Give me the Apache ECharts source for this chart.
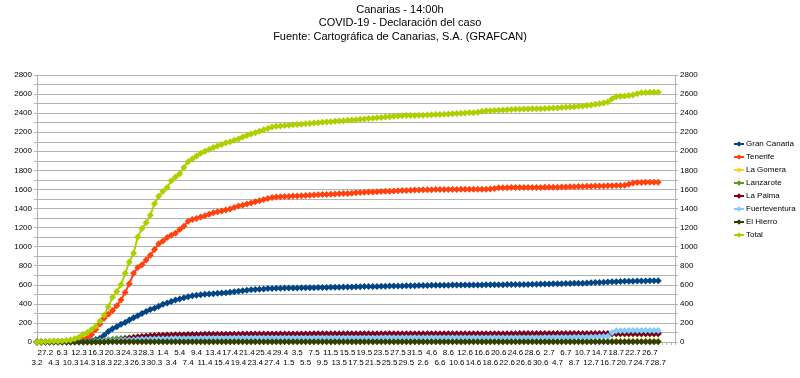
<!DOCTYPE html>
<html>
<head>
<meta charset="utf-8">
<script src="https://cdn.jsdelivr.net/npm/echarts@6/dist/echarts.min.js"></script>
<style>
  html, body { margin: 0; padding: 0; background: #fff; }
  #chart { width: 800px; height: 378px; }
</style>
</head>
<body>
<div id="chart"></div>
<script>
// dates (day.month); the last four columns are empty in the sheet
const categories = [
  '3.2', '24.2', '27.2', '1.3', '4.3', '5.3', '6.3', '9.3',
  '10.3', '11.3', '12.3', '13.3', '14.3', '15.3', '16.3', '17.3', '18.3', '19.3', '20.3', '21.3',
  '22.3', '23.3', '24.3', '25.3', '26.3', '27.3', '28.3', '29.3', '30.3', '31.3',
  '1.4', '2.4', '3.4', '4.4', '5.4', '6.4', '7.4', '8.4', '9.4', '10.4',
  '11.4', '12.4', '13.4', '14.4', '15.4', '16.4', '17.4', '18.4', '19.4', '20.4',
  '21.4', '22.4', '23.4', '24.4', '25.4', '26.4', '27.4', '28.4', '29.4', '30.4',
  '1.5', '2.5', '3.5', '4.5', '5.5', '6.5', '7.5', '8.5', '9.5', '10.5',
  '11.5', '12.5', '13.5', '14.5', '15.5', '16.5', '17.5', '18.5', '19.5', '20.5',
  '21.5', '22.5', '23.5', '24.5', '25.5', '26.5', '27.5', '28.5', '29.5', '30.5', '31.5',
  '1.6', '2.6', '3.6', '4.6', '5.6', '6.6', '7.6', '8.6', '9.6', '10.6',
  '11.6', '12.6', '13.6', '14.6', '15.6', '16.6', '17.6', '18.6', '19.6', '20.6',
  '21.6', '22.6', '23.6', '24.6', '25.6', '26.6', '27.6', '28.6', '29.6', '30.6',
  '1.7', '2.7', '3.7', '4.7', '5.7', '6.7', '7.7', '8.7', '9.7', '10.7',
  '11.7', '12.7', '13.7', '14.7', '15.7', '16.7', '17.7', '18.7', '19.7', '20.7',
  '21.7', '22.7', '23.7', '24.7', '25.7', '26.7', '27.7', '28.7',
  '', '', '', ''
];

const granCanaria = [
  0, 0, 1, 1, 2, 2, 3, 4, 5, 6,
  8, 10, 14, 18, 25, 40, 70, 110, 140, 160,
  185, 205, 230, 255, 275, 300, 320, 340, 355, 375,
  395, 410, 425, 440, 452, 465, 475, 485, 490, 495,
  500, 503, 506, 510, 513, 517, 521, 526, 532, 538,
  543, 547, 551, 554, 557, 560, 562, 563, 564, 565,
  566, 566, 567, 568, 569, 569, 570, 571, 571, 572,
  573, 574, 575, 576, 577, 578, 579, 580, 581, 582,
  582, 583, 584, 585, 586, 587, 588, 588, 589, 590,
  591, 592, 592, 593, 594, 594, 595, 596, 596, 597,
  597, 598, 598, 598, 599, 599, 599, 600, 600, 600,
  601, 601, 602, 602, 603, 603, 604, 604, 605, 606,
  607, 608, 609, 610, 611, 612, 613, 614, 615, 616,
  617, 619, 621, 623, 625, 627, 629, 631, 633, 634,
  636, 637, 638, 639, 640, 641, 642, 643, 643
];

const tenerife = [
  0, 1, 3, 4, 5, 6, 6, 7, 8, 12,
  20, 30, 45, 75, 130, 190, 250, 290, 330, 380,
  440, 520, 610, 720, 780, 810, 860, 910, 970, 1030,
  1060, 1095, 1120, 1140, 1180, 1215, 1265, 1285, 1295, 1310,
  1325, 1340, 1355, 1367, 1375, 1385, 1395, 1410, 1425, 1435,
  1448, 1458, 1470, 1482, 1494, 1506, 1516, 1520, 1523, 1525,
  1527, 1530, 1532, 1535, 1537, 1540, 1542, 1544, 1546, 1548,
  1550, 1552, 1554, 1556, 1558, 1561, 1564, 1567, 1570, 1572,
  1574, 1576, 1578, 1580, 1582, 1584, 1586, 1588, 1590, 1592,
  1594, 1595, 1596, 1597, 1597, 1598, 1598, 1599, 1599, 1600,
  1600, 1601, 1601, 1601, 1602, 1602, 1603, 1603, 1604, 1610,
  1617, 1618, 1618, 1619, 1619, 1620, 1620, 1620, 1621, 1621,
  1621, 1622, 1622, 1623, 1624, 1625, 1626, 1627, 1628, 1630,
  1631, 1633, 1634, 1635, 1636, 1637, 1638, 1639, 1640, 1641,
  1643, 1655, 1668, 1672, 1673, 1674, 1675, 1675, 1676
];

const laGomera = [
  1, 1, 1, 1, 1, 1, 1, 1, 1, 1,
  1, 1, 2, 2, 3, 3, 3, 4, 4, 5,
  5, 5, 6, 6, 6, 7, 7, 7, 7, 7,
  7, 7, 7, 7, 7, 7, 8, 8, 8, 8,
  8, 8, 8, 8, 8, 8, 8, 8, 8, 8,
  8, 8, 8, 8, 8, 8, 8, 8, 8, 8,
  8, 8, 8, 8, 8, 8, 8, 8, 8, 8,
  8, 8, 8, 8, 8, 8, 8, 8, 8, 8,
  8, 8, 8, 8, 8, 8, 8, 8, 8, 8,
  8, 8, 8, 8, 8, 8, 8, 8, 8, 8,
  8, 8, 8, 8, 8, 8, 8, 8, 8, 8,
  8, 8, 8, 8, 8, 8, 8, 8, 8, 8,
  8, 8, 8, 8, 8, 8, 8, 8, 8, 8,
  8, 8, 8, 8, 8, 8, 8, 8, 8, 8,
  8, 8, 8, 8, 8, 8, 8, 8, 8
];

const lanzarote = [
  0, 0, 0, 0, 0, 1, 1, 1, 2, 3,
  4, 5, 7, 9, 12, 15, 19, 23, 28, 33,
  37, 41, 45, 49, 52, 55, 58, 61, 63, 65,
  67, 68, 69, 70, 71, 72, 73, 73, 74, 74,
  75, 75, 75, 76, 76, 76, 77, 77, 77, 77,
  78, 78, 78, 78, 78, 78, 79, 79, 79, 79,
  79, 79, 79, 79, 80, 80, 80, 80, 80, 80,
  80, 80, 80, 80, 80, 80, 80, 80, 80, 80,
  80, 80, 80, 80, 80, 80, 80, 80, 80, 80,
  80, 80, 80, 80, 81, 81, 81, 81, 81, 81,
  81, 81, 81, 81, 81, 81, 81, 81, 81, 81,
  81, 81, 81, 81, 81, 81, 81, 81, 81, 81,
  81, 81, 82, 82, 82, 82, 82, 82, 82, 82,
  82, 82, 82, 82, 83, 83, 83, 83, 83, 83,
  83, 84, 84, 84, 84, 84, 84, 84, 84
];

const laPalma = [
  0, 0, 0, 0, 0, 0, 0, 0, 0, 0,
  0, 1, 2, 3, 4, 6, 8, 10, 14, 18,
  24, 32, 40, 46, 52, 57, 61, 65, 68, 70,
  72, 73, 74, 75, 76, 77, 78, 78, 79, 79,
  80, 80, 80, 81, 81, 81, 82, 82, 82, 83,
  83, 83, 83, 84, 84, 84, 84, 84, 85, 85,
  85, 85, 85, 85, 85, 85, 86, 86, 86, 86,
  86, 86, 86, 86, 86, 86, 86, 86, 86, 86,
  86, 86, 86, 86, 86, 87, 87, 87, 87, 87,
  87, 87, 87, 87, 87, 87, 87, 87, 87, 87,
  87, 87, 87, 87, 87, 87, 87, 87, 87, 87,
  87, 87, 87, 87, 87, 88, 88, 88, 88, 88,
  88, 88, 88, 88, 88, 88, 88, 88, 88, 88,
  88, 88, 88, 88, 88, 88, 89, 89, 89, 89,
  89, 89, 90, 90, 90, 90, 90, 90, 90
];

const fuerteventura = [
  0, 0, 0, 0, 0, 0, 0, 0, 0, 1,
  1, 2, 3, 4, 6, 8, 10, 12, 14, 16,
  18, 20, 22, 24, 26, 28, 30, 31, 32, 33,
  34, 35, 36, 36, 37, 37, 38, 38, 38, 39,
  39, 39, 40, 40, 40, 40, 41, 41, 41, 41,
  41, 42, 42, 42, 42, 42, 42, 43, 43, 43,
  43, 43, 43, 43, 43, 43, 43, 43, 43, 43,
  43, 43, 43, 43, 43, 43, 43, 43, 43, 43,
  43, 43, 44, 44, 44, 44, 44, 44, 44, 44,
  44, 44, 44, 44, 44, 44, 44, 44, 44, 44,
  44, 44, 45, 45, 45, 45, 45, 45, 45, 45,
  45, 45, 45, 45, 45, 45, 45, 45, 45, 45,
  45, 46, 46, 46, 47, 47, 48, 48, 49, 49,
  50, 51, 52, 53, 55, 57, 60, 100, 118, 119,
  119, 120, 120, 120, 120, 121, 121, 121, 121
];

const elHierro = [
  0, 0, 0, 0, 0, 0, 0, 0, 0, 0,
  0, 0, 0, 1, 1, 1, 1, 2, 2, 2,
  2, 3, 3, 3, 3, 3, 3, 3, 3, 3,
  3, 3, 3, 3, 3, 3, 3, 3, 3, 3,
  3, 3, 3, 3, 3, 3, 3, 3, 3, 3,
  3, 3, 3, 3, 3, 3, 3, 3, 3, 3,
  3, 3, 3, 3, 3, 3, 3, 3, 3, 3,
  3, 3, 3, 3, 3, 3, 3, 3, 3, 3,
  3, 3, 3, 3, 3, 3, 3, 3, 3, 3,
  3, 3, 3, 3, 3, 3, 3, 3, 3, 3,
  3, 3, 3, 3, 3, 3, 3, 3, 3, 3,
  3, 3, 3, 3, 3, 3, 3, 3, 3, 3,
  3, 3, 3, 3, 3, 3, 3, 3, 3, 3,
  3, 3, 3, 3, 3, 3, 3, 3, 3, 3,
  3, 3, 3, 3, 3, 3, 3, 3, 3
];

const total = [
  1, 3, 6, 7, 8, 9, 11, 15, 21, 35,
  50, 80, 100, 130, 165, 220, 280, 370, 470, 530,
  600, 720, 840, 930, 1100, 1190, 1250, 1330, 1450, 1530,
  1580, 1620, 1690, 1730, 1765, 1830, 1890, 1920, 1950, 1980,
  2000, 2020, 2040, 2055, 2070, 2090, 2100, 2115, 2130, 2150,
  2165, 2180, 2195, 2210, 2225, 2240, 2255, 2262, 2266, 2270,
  2274, 2277, 2280, 2284, 2288, 2292, 2296, 2300, 2304, 2308,
  2311, 2314, 2318, 2321, 2325, 2329, 2332, 2336, 2339, 2343,
  2347, 2351, 2355, 2359, 2363, 2367, 2371, 2372, 2374, 2375,
  2376, 2378, 2379, 2381, 2383, 2385, 2387, 2389, 2391, 2393,
  2396, 2399, 2401, 2403, 2405, 2410, 2420, 2424, 2426, 2428,
  2431, 2433, 2436, 2438, 2441, 2442, 2443, 2444, 2445, 2446,
  2447, 2449, 2451, 2453, 2455, 2458, 2461, 2464, 2468, 2472,
  2476, 2481, 2486, 2492, 2499, 2507, 2518, 2550, 2572, 2576,
  2580, 2585, 2591, 2603, 2614, 2617, 2618, 2619, 2620
];

const seriesNames = ['Gran Canaria', 'Tenerife', 'La Gomera', 'Lanzarote', 'La Palma', 'Fuerteventura', 'El Hierro', 'Total'];
const seriesData = [granCanaria, tenerife, laGomera, lanzarote, laPalma, fuerteventura, elHierro, total];
const colours = ['#004586', '#ff420e', '#ffd320', '#579d1c', '#7e0021', '#83caff', '#314004', '#aecf00'];

const FONT = 'Liberation Sans, Arial, sans-serif';
const GRID_GREY = '#b3b3b3';

const chart = echarts.init(document.getElementById('chart'), null, { renderer: 'canvas' });

const yAxisBase = {
    type: 'value',
    min: 0,
    max: 2800,
    interval: 200,
    axisLine: { show: true, lineStyle: { color: GRID_GREY } },
    axisTick: { show: true, length: 3, lineStyle: { color: GRID_GREY } },
    minorTick: { show: true, splitNumber: 2, length: 3, lineStyle: { color: GRID_GREY } },
    axisLabel: {
        color: '#000',
        fontSize: 8,
        fontFamily: FONT,
        margin: 5,
        formatter: (v) => String(v) // no thousands separator
    },
};

// date labels: every second date, alternating between two rows
// (two overlaid category axes, one per row)
const dateAxis = (row) => ({
    type: 'category',
    data: categories,
    boundaryGap: false,
    position: 'bottom',
    axisLine: { show: row === 0, lineStyle: { color: GRID_GREY } },
    axisTick: { show: row === 0, interval: 0, length: 3, lineStyle: { color: GRID_GREY } },
    splitLine: { show: false },
    axisPointer: { show: false },
    axisLabel: {
        color: '#000',
        fontSize: 8,
        fontFamily: FONT,
        margin: row === 0 ? 7 : 17,
        showMinLabel: true,
        showMaxLabel: true,
        interval: function (index, value) {
            return value !== '' && index % 4 === (row === 0 ? 2 : 0);
        }
    }
});

chart.setOption({
    animation: false,
    title: {
        text: 'Canarias - 14:00h\nCOVID-19 - Declaración del caso\nFuente: Cartográfica de Canarias, S.A. (GRAFCAN)',
        left: 400,
        top: 3,
        textAlign: 'center',
        padding: 0,
        textStyle: {
            color: '#000',
            fontSize: 11,
            fontWeight: 'normal',
            fontFamily: FONT,
            lineHeight: 13.5
        }
    },
    legend: {
        orient: 'vertical',
        left: 733,
        top: 140,
        padding: 0,
        itemWidth: 10,
        itemHeight: 7,
        itemGap: 5,
        textStyle: { color: '#000', fontSize: 8, fontFamily: FONT, padding: [0, 0, 0, -3] },
        data: seriesNames
    },
    grid: {
        left: 37,
        right: 125,
        top: 75,
        bottom: 36
    },
    xAxis: [dateAxis(0), dateAxis(1)],
    yAxis: [
        Object.assign({}, yAxisBase, {
            position: 'left',
            splitLine: { show: true, lineStyle: { color: GRID_GREY } },
            minorSplitLine: { show: true, lineStyle: { color: GRID_GREY } }
        }),
        Object.assign({}, yAxisBase, {
            position: 'right',
            splitLine: { show: false },
            minorSplitLine: { show: false }
        })
    ],
    series: seriesNames.map((name, i) => ({
        name: name,
        type: 'line',
        xAxisIndex: 0,
        yAxisIndex: 0,
        data: seriesData[i],
        color: colours[i],
        symbol: 'diamond',
        symbolSize: 7,
        showSymbol: true,
        showAllSymbol: true, // a marker on every date
        lineStyle: { width: 2 }
    }))
});
</script>
</body>
</html>
